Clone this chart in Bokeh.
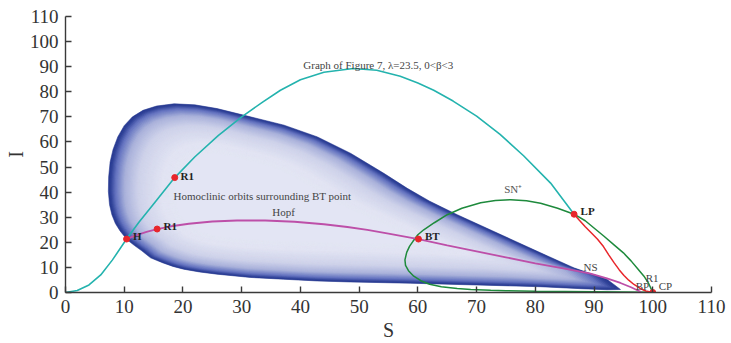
import numpy as np
from bokeh.plotting import figure
from bokeh.models import Range1d, Label, FixedTicker
from bokeh.embed import file_html
from bokeh.resources import INLINE

# ---------------- data ----------------
ticks = list(range(0, 111, 10))

# equilibrium curve (cyan)
cyan_S = [0, 2, 4, 6, 8, 10.4, 12.5, 15, 18.6, 22, 26, 30, 33.5, 36.6, 40, 44, 49,
          53, 57, 60, 62.7, 66, 70, 74, 78, 82.6, 86.6]
cyan_I = [0, 0.8, 3.0, 7.0, 13.0, 21.3, 28.0, 35.3, 45.8, 54.0, 62.5, 70.0, 75.8, 80.6, 84.8, 87.8, 89.3,
          88.6, 86.2, 83.5, 80.6, 76.3, 70.3, 63.0, 54.5, 43.6, 31.2]

# Hopf curve (magenta)
hopf_S = [10.4, 12.0, 13.8, 15.6, 18.0, 21.0, 25.0, 29.2, 34.0, 39.0, 44.0, 48.0, 51.4, 55.0,
          60.1, 65.0, 70.0, 75.0, 80.0, 85.0, 89.4, 92.2, 94.5, 96.3, 98.0]
hopf_I = [21.3, 22.8, 24.2, 25.3, 26.4, 27.4, 28.3, 28.7, 28.7, 28.2, 27.2, 26.1, 25.0, 23.5,
          21.3, 18.8, 16.4, 14.0, 11.6, 9.5, 7.5, 5.6, 3.8, 2.1, 0.2]

# saddle-node curve (green), SN- along the bottom, SN+ over the top
sn_S = [99.5, 95, 90, 85, 80, 75, 72.4, 69, 66.7, 64, 62, 60.5, 59.3, 58.4, 57.9, 57.8, 58.1,
        58.6, 59.2, 60.0, 61.0, 62.8, 65.0, 67.5, 70.7, 73.2, 75.8, 78.5, 80.9, 83.8, 86.6,
        88.5, 90.2, 91.7, 93.5, 95.0, 96.3, 97.5, 98.5, 99.3, 100.0]
sn_I = [0.1, 0.2, 0.3, 0.4, 0.5, 0.7, 0.9, 1.2, 1.6, 2.3, 3.3, 4.7, 6.5, 8.7, 10.8, 13.0, 16.0,
        18.5, 20.5, 23.0, 25.0, 27.8, 31.0, 33.6, 35.8, 36.7, 37.0, 36.6, 35.6, 33.6, 31.2,
        28.6, 25.3, 22.4, 18.8, 15.8, 12.6, 9.3, 6.5, 3.6, 0.0]

# red curve from LP to CP
red_S = [86.6, 87.5, 88.5, 89.6, 90.6, 91.6, 92.5, 93.4, 94.3, 95.1, 95.9, 96.8, 97.8, 98.8, 100.0]
red_I = [31.2, 28.8, 26.2, 23.6, 21.2, 18.3, 15.0, 11.9, 9.0, 6.8, 4.9, 3.2, 1.7, 0.6, 0.0]

# outer envelope of the homoclinic orbit family
blob_S = [94.5, 92.2, 86.6, 80.9, 73.8, 66.7, 62.0, 58.2, 54.2, 48.6, 42.9, 37.2, 31.5, 25.8,
          22.0, 18.5, 15.5, 13.2, 11.4, 10.0, 8.9, 8.1, 7.6, 7.35, 7.3, 7.5, 7.9, 8.5, 9.3,
          10.5, 11.7, 13.0, 14.5, 16.5, 18.3, 20.1, 22.8, 25.8, 31.5, 37.1, 42.9, 48.5, 58.7,
          70.0, 80.9, 88.0, 92.2]
blob_I = [1.2, 5.3, 9.8, 15.8, 23.4, 31.0, 36.4, 41.5, 47.5, 55.4, 62.0, 66.7, 70.0, 73.3,
          74.8, 75.2, 74.3, 72.6, 70.0, 66.5, 62.0, 57.0, 52.0, 46.0, 40.3, 35.0, 31.0, 27.5, 24.5,
          21.0, 18.8, 16.6, 13.8, 11.9, 10.4, 9.3, 8.2, 7.3, 6.0, 5.3, 4.6, 4.2, 3.7,
          3.0, 2.3, 1.5, 1.1]

# special points (red dots)
pt_S = [18.6, 10.4, 15.6, 60.1, 86.6, 100.0]
pt_I = [45.8, 21.3, 25.3, 21.3, 31.2, 0.0]

# ---------------- figure ----------------
FONT = "Liberation Serif"
p = figure(width=731, height=343, x_range=Range1d(0, 110), y_range=Range1d(0, 110),
           output_backend="svg", toolbar_location=None,
           min_border_left=65, min_border_right=20, min_border_top=16, min_border_bottom=50)
p.outline_line_color = None
p.grid.visible = False
p.background_fill_color = "white"
p.border_fill_color = "white"

for ax in (p.xaxis[0], p.yaxis[0]):
    ax.ticker = FixedTicker(ticks=ticks)
    ax.axis_line_color = "#3a3a3a"
    ax.axis_line_width = 1.4
    ax.major_tick_line_color = "#3a3a3a"
    ax.major_tick_line_width = 1.4
    ax.major_tick_in = 6
    ax.major_tick_out = 0
    ax.minor_tick_line_color = None
    ax.major_label_text_font = FONT
    ax.major_label_text_font_size = "19px"
    ax.major_label_text_color = "#333333"
    ax.axis_label_text_font = FONT
    ax.axis_label_text_font_size = "20px"
    ax.axis_label_text_font_style = "normal"
    ax.axis_label_text_color = "#333333"
p.xaxis.axis_label = "S"
p.yaxis.axis_label = "I"
p.xaxis.major_label_standoff = 7
p.yaxis.major_label_standoff = 7
p.xaxis.axis_label_standoff = 3
p.yaxis.axis_label_standoff = 0

# homoclinic family: nested envelopes shrinking toward an interior point
bS = np.array(blob_S)
bI = np.array(blob_I)
cS, cI = 30.0, 36.0
ramp = [(0.00, (40, 58, 146)), (0.015, (48, 66, 152)), (0.05, (100, 115, 192)),
        (0.12, (170, 178, 219)), (0.22, (206, 210, 234)), (0.40, (226, 228, 243)),
        (1.00, (232, 234, 246))]
n_levels = 60
for k in range(n_levels):
    d = 0.5 * k / (n_levels - 1)  # 1 - scale
    for (d0, c0), (d1, c1) in zip(ramp[:-1], ramp[1:]):
        if d0 <= d <= d1:
            f = (d - d0) / (d1 - d0)
            c = [a + (b - a) * f for a, b in zip(c0, c1)]
            break
    col = "#%02x%02x%02x" % tuple(int(round(v)) for v in c)
    s = 1.0 - d
    p.patch(cS + s * (bS - cS), cI + s * (bI - cI), fill_color=col, line_color=col,
            line_width=0.6)

p.line(cyan_S, cyan_I, line_color="#24b3ae", line_width=1.6)
p.line(sn_S, sn_I, line_color="#1e8a3c", line_width=1.5)
p.line(hopf_S, hopf_I, line_color="#bd4fa8", line_width=1.8)
p.line(red_S, red_I, line_color="#e8262b", line_width=1.5)
p.scatter(pt_S, pt_I, size=6, fill_color="#e8262b", line_color="#e8262b")

labels = [
    (40.5, 90.8, "Graph of Figure 7, λ=23.5, 0<β<3", "normal", "#444444"),
    (19.6, 46.5, "R1", "bold", "#222222"),
    (18.4, 38.3, "Homoclinic orbits surrounding BT point", "normal", "#444444"),
    (35.2, 31.9, "Hopf", "normal", "#444444"),
    (16.7, 26.4, "R1", "bold", "#222222"),
    (11.5, 22.7, "H", "bold", "#222222"),
    (61.2, 22.7, "BT", "bold", "#222222"),
    (74.7, 41.4, "SN⁺", "normal", "#555555"),
    (87.7, 32.4, "LP", "bold", "#222222"),
    (88.2, 10.2, "NS", "normal", "#444444"),
    (97.1, 2.6, "BP", "normal", "#444444"),
    (98.8, 5.7, "R1", "normal", "#444444"),
    (101.0, 2.6, "CP", "normal", "#444444"),
    (75.8, -2.9, "SN⁻", "normal", "#555555"),
]
for x, y, txt, style, colr in labels:
    p.add_layout(Label(x=x, y=y, text=txt, text_font=FONT, text_font_size="11px",
                       text_font_style=style, text_color=colr,
                       text_align="left", text_baseline="middle"))

open("out.html", "w").write(file_html(p, INLINE))
